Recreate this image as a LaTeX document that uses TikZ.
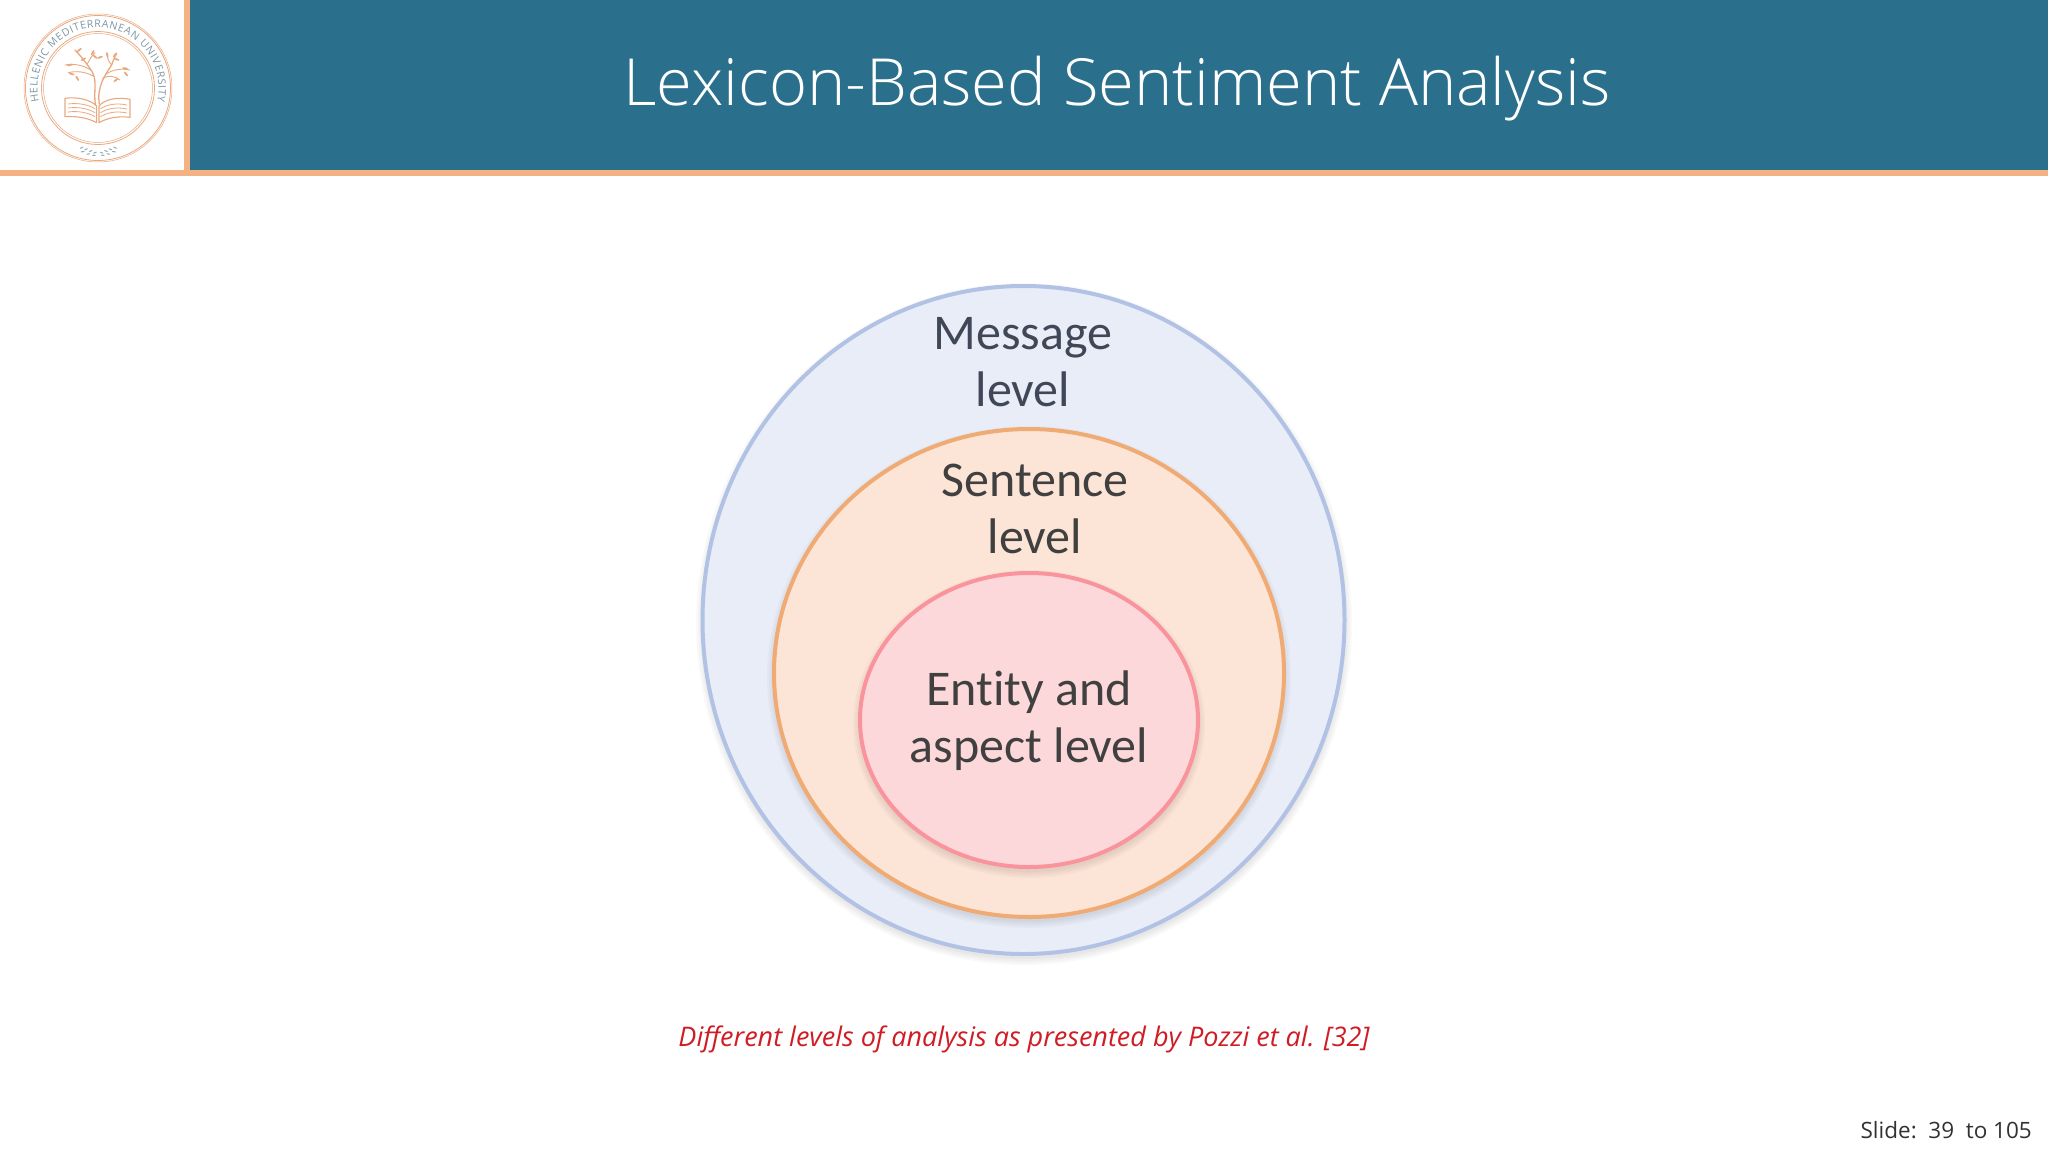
\documentclass[tikz,border=0pt]{standalone}
\usepackage{fontspec}
\usetikzlibrary{decorations.text,shapes.geometric}
\setmainfont{Open Sans}
\newfontfamily\dgfont[Ligatures=NoCommon]{Carlito}
\newfontfamily\ttlfont{Open Sans Light}
\definecolor{teal}{HTML}{2A6F8C}
\definecolor{peach}{HTML}{F4B183}
\definecolor{logoink}{HTML}{E9A97F}
\definecolor{logotext}{HTML}{7F96A3}
\tikzset{
  x=1pt,y=-1pt,
  lvl/.style={draw,ellipse,line width=4pt,inner sep=0pt},
  shd/.style={fill=black,opacity=.025},
  lbl/.style={align=center,inner sep=0pt,font=\dgfont\fontsize{50}{57}\selectfont},
  lg/.style={draw=logoink,line cap=round,line join=round,fill=none},
}
\begin{document}
\begin{tikzpicture}
\useasboundingbox (0,0) rectangle (2048,1152);
\fill[white] (0,0) rectangle (2048,1152);
% header
\fill[teal] (190,0) rectangle (2048,170);
\fill[peach] (184,0) rectangle (190,176);
\fill[peach] (0,170) rectangle (2048,176);
\node[text=white,inner sep=0pt,font=\ttlfont\fontsize{65}{70}\selectfont] (title) at (1117,89) {Lexicon-Based Sentiment Analysis};
% logo
\coordinate (lc) at (98,88);
\draw[logoink,line width=.5pt] (lc) circle[radius=74];
\draw[logoink,line width=.8pt] (lc) circle[radius=72.5];
\draw[logoink,line width=.8pt] (lc) circle[radius=56.5];
\draw[logoink,line width=.5pt] (lc) circle[radius=54.5];
\begin{scope}[y=1pt]
\path[postaction={decorate},decoration={text along path,text align={fit to path},
  text={|\fontsize{10.5}{12}\selectfont\color{logotext}|HELLENIC MEDITERRANEAN UNIVERSITY}}]
  (98,-88) ++(193:60.5) arc[start angle=193,end angle=-13,radius=60.5];
\end{scope}
\begin{scope}[x=.3333pt,y=-.3333pt]
 % book
 \draw[lg,line width=1.1pt] (195,295) .. controls (230,290) and (270,298) .. (290,318) -- (290,368) .. controls (260,352) and (225,348) .. (195,350) -- cycle;
 \draw[lg,line width=1.1pt] (390,298) .. controls (350,290) and (315,298) .. (297,318) -- (297,368) .. controls (325,352) and (360,348) .. (390,352) -- cycle;
 \foreach \d in {0,12,24}{
  \draw[lg,line width=.8pt] (205,312+\d) .. controls (235,308+\d) and (265,314+\d) .. (285,326+\d);
  \draw[lg,line width=.8pt] (380,315+\d) .. controls (350,308+\d) and (320,314+\d) .. (302,326+\d);
 }
 % trunk and branches
 \draw[lg,line width=1.3pt] (286,315) .. controls (280,260) and (295,240) .. (270,205) .. controls (255,185) and (240,165) .. (225,150);
 \draw[lg,line width=1.3pt] (298,312) .. controls (290,260) and (315,225) .. (335,195) .. controls (340,180) and (345,170) .. (350,160);
 \draw[lg,line width=.9pt] (272,210) .. controls (250,195) and (220,190) .. (195,195);
 \draw[lg,line width=.9pt] (280,228) .. controls (255,215) and (230,212) .. (205,218);
 \draw[lg,line width=.9pt] (262,192) .. controls (268,180) and (275,168) .. (285,158);
 \draw[lg,line width=.9pt] (318,222) .. controls (340,208) and (365,205) .. (390,210);
 \draw[lg,line width=.9pt] (308,235) .. controls (325,225) and (345,228) .. (360,240);
 \draw[lg,line width=.9pt] (335,195) .. controls (325,185) and (322,172) .. (320,160);
 \foreach \a/\b/\r in {238/150/40,215/222/-20,232/235/-60,250/178/30,285/170/-40,278/158/60,345/165/50,322/165/100,350/178/-20,378/222/-50,348/240/40,375/205/-10,210/195/10,300/172/20}{
  \fill[logoink,rotate around={\r:(\a,\b)}] (\a,\b) ellipse[x radius=9,y radius=3];
 }
 % laurel
 \foreach \a/\b/\r in {245/443/25,258/448/25,272/453/25,285/458/20,248/455/10,265/462/10,282/466/5,345/443/-25,332/448/-25,318/453/-25,305/458/-20,342/455/-10,325/462/-10,308/466/-5}{
  \fill[logotext,opacity=.8,rotate around={\r:(\a,\b)}] (\a,\b) ellipse[x radius=6,y radius=1.8];
 }
\end{scope}
% soft shadows
\foreach \g in {0,2,4,6}{
 \fill[shd] (1024,624) ellipse[x radius=322+\g,y radius=335+\g];
}
% circles
\node[lvl,draw={rgb,255:red,178;green,194;blue,229},fill={rgb,255:red,232;green,237;blue,248},minimum width=642,minimum height=668] (msg) at (1023.5,620) {};
\foreach \g in {0,2,4,6}{\fill[shd] (1029,677) ellipse[x radius=256+\g,y radius=245+\g];}
\node[lvl,draw={rgb,255:red,240;green,170;blue,115},fill={rgb,255:red,252;green,229;blue,214},minimum width=510,minimum height=488] (snt) at (1029,673) {};
\foreach \g in {0,2,4,6}{\fill[shd] (1029,724) ellipse[x radius=170+\g,y radius=148+\g];}
\node[lvl,draw={rgb,255:red,250;green,148;blue,156},fill={rgb,255:red,253;green,216;blue,218},minimum width=338,minimum height=294] (ent) at (1029,720) {};
\node[lbl,text={rgb,255:red,64;green,72;blue,88}] (msgl) at (1023,362) {Message\\level};
\node[lbl,text={rgb,255:red,64;green,64;blue,64}] (sntl) at (1035,509) {Sentence\\level};
\node[lbl,text={rgb,255:red,64;green,64;blue,64}] (entl) at (1029,721) {Entity and\\aspect level};
% caption
\node[text={rgb,255:red,208;green,28;blue,36},inner sep=0pt,font=\itshape\fontsize{27}{32}\selectfont] (cap) at (1024,1039) {Different levels of analysis as presented by Pozzi et al. [32]};
\node[anchor=east,text={rgb,255:red,50;green,50;blue,50},inner sep=0pt,font=\fontsize{22.5}{28}\selectfont] (sl) at (2032,1130) {Slide:\ \ 39\ \ to 105};
\end{tikzpicture}
\end{document}
